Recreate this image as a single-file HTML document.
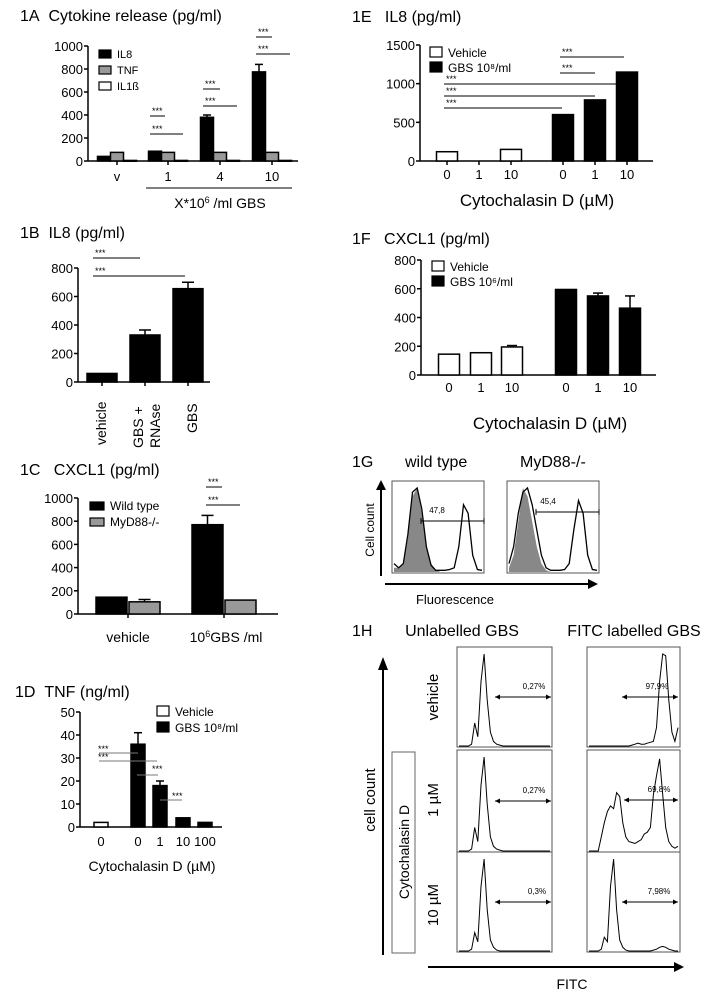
<!DOCTYPE html>
<html><head><meta charset="utf-8"><style>
body{margin:0;background:#fff}
svg{display:block;font-family:"Liberation Sans",sans-serif}
</style></head><body>
<svg id="fig" width="721" height="999" viewBox="0 0 721 999">
<g id="static" fill="#000">
<text x="20" y="21" font-size="16">1A&#160;&#160;Cytokine release (pg/ml)</text>
<text x="20" y="238" font-size="16">1B&#160;&#160;IL8 (pg/ml)</text>
<text x="20" y="475" font-size="16">1C&#160;&#160;&#160;CXCL1 (pg/ml)</text>
<text x="15" y="697" font-size="16">1D&#160;&#160;TNF (ng/ml)</text>
<text x="352" y="22" font-size="16">1E&#160;&#160;&#160;IL8 (pg/ml)</text>
<text x="352" y="244" font-size="16">1F&#160;&#160;&#160;CXCL1 (pg/ml)</text>
<text x="352" y="467" font-size="16">1G</text>
<text x="405" y="467" font-size="16">wild type</text>
<text x="520" y="467" font-size="16">MyD88-/-</text>
<text x="352" y="636" font-size="16">1H</text>
<text x="462" y="636" font-size="16" text-anchor="middle">Unlabelled GBS</text>
<text x="634" y="636" font-size="16" text-anchor="middle">FITC labelled GBS</text>
<line x1="146" y1="188" x2="292" y2="188" stroke="#000" stroke-width="1"/>
<text x="220" y="208" font-size="14" text-anchor="middle">X*10<tspan font-size="9" dy="-5">6</tspan><tspan dy="5"> /ml GBS</tspan></text>
<text transform="translate(106,445) rotate(-90)" font-size="14">vehicle</text>
<text transform="translate(143,448) rotate(-90)" font-size="14">GBS +</text>
<text transform="translate(160,448) rotate(-90)" font-size="14">RNAse</text>
<text transform="translate(197,433) rotate(-90)" font-size="14">GBS</text>
<text x="128" y="642" font-size="14" text-anchor="middle">vehicle</text>
<text x="226" y="642" font-size="14" text-anchor="middle">10<tspan font-size="9" dy="-5">6</tspan><tspan dy="5">GBS /ml</tspan></text>
<text x="152" y="871" font-size="14" text-anchor="middle">Cytochalasin D (µM)</text>
<text x="537" y="206" font-size="17" text-anchor="middle">Cytochalasin D (µM)</text>
<text x="550" y="429" font-size="17" text-anchor="middle">Cytochalasin D (µM)</text>
<line x1="381" y1="576" x2="381" y2="489" stroke="#000" stroke-width="2"/>
<polygon points="376,490 386,490 381,480" fill="#000"/>
<text transform="translate(374,530) rotate(-90)" font-size="12" text-anchor="middle">Cell count</text>
<line x1="385" y1="584" x2="590" y2="584" stroke="#000" stroke-width="2"/>
<polygon points="588,579 588,589 598,584" fill="#000"/>
<text x="455" y="604" font-size="13" text-anchor="middle">Fluorescence</text>
<line x1="383" y1="955" x2="383" y2="668" stroke="#000" stroke-width="2"/>
<polygon points="378,670 388,670 383,657" fill="#000"/>
<text transform="translate(375,800) rotate(-90)" font-size="15" text-anchor="middle">cell count</text>
<rect x="392" y="752" width="23" height="201" fill="none" stroke="#666" stroke-width="1"/>
<text transform="translate(409,852) rotate(-90)" font-size="14" text-anchor="middle">Cytochalasin D</text>
<text transform="translate(438,697) rotate(-90)" font-size="15" text-anchor="middle">vehicle</text>
<text transform="translate(438,800) rotate(-90)" font-size="15" text-anchor="middle">1 µM</text>
<text transform="translate(438,905) rotate(-90)" font-size="15" text-anchor="middle">10 µM</text>
<line x1="428" y1="967" x2="676" y2="967" stroke="#000" stroke-width="2"/>
<polygon points="674,962 674,972 684,967" fill="#000"/>
<text x="572" y="989" font-size="14" text-anchor="middle">FITC</text>
</g>
<g id="dyn"></g>
</svg>
<script>
const catsA = ['v','1','4','10'];
const il8A = [40, 85, 380, 775];
const il8ErrA = [45, 92, 400, 840];
const tnfA = [75, 75, 75, 75];
const il1A = [5, 5, 5, 5];
const ticksA = [0,200,400,600,800,1000];

const catsB = ['vehicle','GBS + RNAse','GBS'];
const valsB = [60, 330, 655];
const errB = [60, 365, 700];
const ticksB = [0,200,400,600,800];

const catsC = ['vehicle','10^6 GBS /ml'];
const wtC = [145, 770];
const wtErrC = [150, 850];
const mydC = [105, 120];
const mydErrC = [125, 128];
const ticksC = [0,200,400,600,800,1000];

const catsD = ['0','0','1','10','100'];
const valsD = [2, 36, 18, 4, 2];
const errD = [2, 41, 20, 4, 2];
const groupD = ['veh','gbs','gbs','gbs','gbs'];
const ticksD = [0,10,20,30,40,50];

const catsE = ['0','1','10','0','1','10'];
const valsE = [120, 0, 150, 600, 790, 1150];
const groupE = ['veh','veh','veh','gbs','gbs','gbs'];
const ticksE = [0,500,1000,1500];

const catsF = ['0','1','10','0','1','10'];
const valsF = [145, 155, 195, 595, 550, 465];
const errF = [150, 155, 205, 600, 570, 550];
const groupF = ['veh','veh','veh','gbs','gbs','gbs'];
const ticksF = [0,200,400,600,800];

const histUnl = [0,0,0,0,0.02,0.25,0.1,0.7,1,0.5,0.15,0.05,0.02,0.01,0,0,0,0,0,0,0,0,0,0,0,0,0,0,0,0];
const histUnl10 = [0,0,0,0,0.02,0.2,0.1,0.7,1,0.45,0.12,0.04,0.01,0,0,0,0,0,0,0,0,0,0,0,0,0,0,0,0,0];
const histFitcVeh = [0,0,0,0,0,0,0,0,0,0,0,0,0,0,0.01,0.02,0.03,0.02,0.02,0.03,0.04,0.05,0.2,0.7,1,0.98,0.5,0.15,0.05,0.2];
const histFitc1 = [0,0,0,0,0.15,0.3,0.42,0.48,0.45,0.62,0.58,0.3,0.15,0.1,0.09,0.08,0.1,0.12,0.18,0.2,0.25,0.6,0.8,0.98,0.6,0.25,0.1,0.05,0.03,0.05];
const histFitc10 = [0,0,0,0,0.02,0.15,0.1,0.7,1,0.45,0.12,0.04,0.01,0,0,0,0,0,0,0,0,0.01,0.02,0.04,0.05,0.04,0.02,0.01,0,0];
const gWtFilled = [0.05,0.05,0.1,0.4,0.9,1,0.7,0.3,0.1,0.03,0,0,0,0,0,0,0,0,0,0];
const gWtLine = [0.1,0.05,0.1,0.45,0.95,1,0.75,0.3,0.08,0.02,0.02,0.02,0.03,0.05,0.3,0.8,0.7,0.2,0.03,0.02];
const gMyFilled = [0.05,0.2,0.6,1,0.9,0.6,0.3,0.1,0.02,0,0,0,0,0,0,0,0,0,0,0];
const gMyLine = [0.1,0.3,0.7,0.95,1,0.8,0.5,0.2,0.05,0.02,0.02,0.02,0.03,0.1,0.5,0.85,0.7,0.2,0.03,0.02];

const NS='http://www.w3.org/2000/svg';
const root=document.getElementById('dyn');
function el(tag,attrs,parent){const e=document.createElementNS(NS,tag);for(const k in attrs)e.setAttribute(k,attrs[k]);(parent||root).appendChild(e);return e;}
function txt(x,y,s,size,anchor,parent){const t=el('text',{x:x,y:y,'font-size':size,'text-anchor':anchor||'start'},parent);t.textContent=s;return t;}

function axes(g,x0,x1,yTop,yBot,ticks,fs){
  const max=ticks[ticks.length-1];
  const sy=v=>yBot-(v/max)*(yBot-yTop);
  let a=el('line',{x1:x0,y1:yTop,x2:x0,y2:yBot,stroke:'#000','stroke-width':1.5},g);
  
  
  let b=el('line',{x1:x0,y1:yBot,x2:x1,y2:yBot,stroke:'#000','stroke-width':1.5},g);
  
  
  ticks.forEach(t=>{el('line',{x1:x0-4,y1:sy(t),x2:x0,y2:sy(t),stroke:'#000','stroke-width':1.5},g);
    const l=txt(x0-5,sy(t)+5,String(t),fs,'end',g);
    
    });
  return sy;
}
function bar(g,x,w,y0,y1,fill){return el('rect',{x:x,y:Math.min(y0,y1),width:w,height:Math.max(Math.abs(y1-y0),0.8),fill:fill,stroke:'#000','stroke-width':1.5},g);}
function err(g,cx,yv,ye,hw){if(ye>=yv-1)return;el('line',{x1:cx,y1:yv,x2:cx,y2:ye,stroke:'#000','stroke-width':1.5},g);el('line',{x1:cx-hw,y1:ye,x2:cx+hw,y2:ye,stroke:'#000','stroke-width':1.5},g);}
function sig(g,x1,x2,y,col,tx,ty){el('line',{x1:x1,y1:y,x2:x2,y2:y,stroke:col||'#000','stroke-width':1},g);const t=txt(tx!==undefined?tx:x1+2,ty!==undefined?ty:y-2,'***',9,'start',g);}
function legend(g,x,y,dy,items,fs,w,h){items.forEach((it,i)=>{const r=el('rect',{x:x,y:y+i*dy,width:w,height:h,fill:it[1],stroke:'#000','stroke-width':1.2},g);const t=txt(x+w+6,y+i*dy+h,it[0],fs,'start',g);});}

(function(){const g=el('g',{});
 const sy=axes(g,88,298,46,161,ticksA,13);const cx=[117,168,220,272];const w=13;
 catsA.forEach((c,i)=>{const x=cx[i]-19.5;
  const b1=bar(g,x,w,161,sy(il8A[i]),'#000');
  err(g,x+w/2,sy(il8A[i]),sy(il8ErrA[i]),4);
  const b2=bar(g,x+w,w,161,sy(tnfA[i]),'#999');
  const b3=bar(g,x+2*w,w,161,sy(il1A[i]),'#fff');
  el('line',{x1:cx[i],y1:161,x2:cx[i],y2:165,stroke:'#000','stroke-width':1.5},g);
  const t=txt(cx[i],181,c,13,'middle',g);});
 legend(g,99,50,16,[['IL8','#000'],['TNF','#999'],['IL1ß','#fff']],11,12,8);
 sig(g,150,165,116);sig(g,150,183,134);sig(g,203,220,89);sig(g,203,237,106);sig(g,256,272,37);sig(g,256,290,54);
})();
(function(){const g=el('g',{});
 const sy=axes(g,78,210,268,382,ticksB,13);const cx=[102,145,188];
 catsB.forEach((c,i)=>{const b=bar(g,cx[i]-15,30,382,sy(valsB[i]),'#000');
  err(g,cx[i],sy(valsB[i]),sy(errB[i]),6);el('line',{x1:cx[i],y1:382,x2:cx[i],y2:386,stroke:'#000','stroke-width':1.5},g);});
 sig(g,93,140,258);sig(g,93,185,276);
})();
(function(){const g=el('g',{});
 const sy=axes(g,78,278,498,614,ticksC,13);const cx=[128,224];
 catsC.forEach((c,i)=>{const b1=bar(g,cx[i]-32,31,614,sy(wtC[i]),'#000');
  err(g,cx[i]-16.5,sy(wtC[i]),sy(wtErrC[i]),6);
  const b2=bar(g,cx[i]+1,31,614,sy(mydC[i]),'#999');
  err(g,cx[i]+16.5,sy(mydC[i]),sy(mydErrC[i]),6);
  el('line',{x1:cx[i],y1:614,x2:cx[i],y2:618,stroke:'#000','stroke-width':1.5},g);});
 legend(g,90,502,16,[['Wild type','#000'],['MyD88-/-','#999']],12,14,8);
 sig(g,206,222,487);sig(g,206,240,505);
})();
(function(){const g=el('g',{});
 const sy=axes(g,80,222,712,827,ticksD,13);const cx=[101,138,160,183,205];
 catsD.forEach((c,i)=>{const b=bar(g,cx[i]-7,14,827,sy(valsD[i]),groupD[i]==='veh'?'#fff':'#000');
  err(g,cx[i],sy(valsD[i]),sy(errD[i]),4);
  const t=txt(cx[i],846,c,13,'middle',g);});
 legend(g,157,706,16,[['Vehicle','#fff'],['GBS 10\u2078/ml','#000']],12,12,10);
 sig(g,99,138,753,'#777',98,752);sig(g,99,157,761,'#777',98,760);sig(g,137,158,775,'#777',152,772);sig(g,160,182,800,'#777',172,799);
})();
(function(){const g=el('g',{});
 const sy=axes(g,420,653,45,161,ticksE,13);const cx=[447,479,511,563,595,627];
 catsE.forEach((c,i)=>{if(valsE[i]>0){const b=bar(g,cx[i]-10.5,21,161,sy(valsE[i]),groupE[i]==='veh'?'#fff':'#000');}
  el('line',{x1:cx[i],y1:161,x2:cx[i],y2:165,stroke:'#000','stroke-width':1.5},g);
  const t=txt(cx[i],179,c,13,'middle',g);});
 legend(g,430,47,15,[['Vehicle','#fff'],['GBS 10\u2078/ml','#000']],12,12,10);
 sig(g,444,622,84);sig(g,444,595,96);sig(g,444,562,108);sig(g,560,624,57);sig(g,560,595,73);
})();
(function(){const g=el('g',{});
 const sy=axes(g,421,656,260,375,ticksF,13);const cx=[449,481,512,566,598,630];
 catsF.forEach((c,i)=>{const b=bar(g,cx[i]-10.5,21,375,sy(valsF[i]),groupF[i]==='veh'?'#fff':'#000');
  err(g,cx[i],sy(valsF[i]),sy(errF[i]),5);
  const t=txt(cx[i],392,c,13,'middle',g);});
 legend(g,432,261,15,[['Vehicle','#fff'],['GBS 10\u2076/ml','#000']],12,12,10);
})();
function histPath(arr,x0,x1,yb,h){const n=arr.length;let d='';arr.forEach((v,i)=>{const x=x0+(x1-x0)*i/(n-1);const y=yb-v*h;d+=(i?'L':'M')+x.toFixed(1)+','+y.toFixed(1);});return d;}
function hpanel(name,x,y,w,h,series,gate,label){const g=el('g',{});
 el('rect',{x:x,y:y,width:w,height:h,fill:'#fff',stroke:'#555','stroke-width':1},g);
 series.forEach(s=>{const d=histPath(s.a,x+2,x+w-2,y+h-1,(h-8)*s.s);
  if(s.fill){el('path',{d:d+'L'+(x+w-2)+','+(y+h-1)+'L'+(x+2)+','+(y+h-1)+'Z',fill:'#888',stroke:'none'},g);}
  else el('path',{d:d,fill:'none',stroke:'#000','stroke-width':s.sw||1},g);});
 if(gate){el('line',{x1:gate[0],y1:gate[2],x2:gate[1],y2:gate[2],stroke:'#000','stroke-width':1},g);
  if(gate[4]){el('polygon',{points:`${gate[0]},${gate[2]} ${gate[0]+5},${gate[2]-2.5} ${gate[0]+5},${gate[2]+2.5}`},g);el('polygon',{points:`${gate[1]},${gate[2]} ${gate[1]-5},${gate[2]-2.5} ${gate[1]-5},${gate[2]+2.5}`},g);}
  else{el('line',{x1:gate[0],y1:gate[2]-3,x2:gate[0],y2:gate[2]+3,stroke:'#000'},g);el('line',{x1:gate[1],y1:gate[2]-3,x2:gate[1],y2:gate[2]+3,stroke:'#000'},g);}
  const t=txt(gate[3],gate[2]-8,label,8,'middle',g);}
}
hpanel('histogram-wild-type',392,481,92,92,[{a:gWtFilled,s:1,fill:true},{a:gWtLine,s:1,sw:1.3}],[421,484,521,437,false],'47,8');
hpanel('histogram-myd88',507,481,92,92,[{a:gMyFilled,s:1,fill:true},{a:gMyLine,s:1,sw:1.3}],[536,599,512,548,false],'45,4');
hpanel('histogram-unl-vehicle',457,647,95,100,[{a:histUnl,s:1}],[495,551,697,534,true],'0,27%');
hpanel('histogram-unl-1um',457,750,95,102,[{a:histUnl,s:1}],[495,551,801,534,true],'0,27%');
hpanel('histogram-unl-10um',457,852,95,100,[{a:histUnl10,s:1}],[495,551,902,537,true],'0,3%');
hpanel('histogram-fitc-vehicle',587,647,93,100,[{a:histFitcVeh,s:1}],[622,678,697,657,true],'97,9%');
hpanel('histogram-fitc-1um',587,750,93,102,[{a:histFitc1,s:1}],[624,678,800,659,true],'69,8%');
hpanel('histogram-fitc-10um',587,852,93,100,[{a:histFitc10,s:1}],[622,678,902,659,true],'7,98%');
</script>
</body></html>
